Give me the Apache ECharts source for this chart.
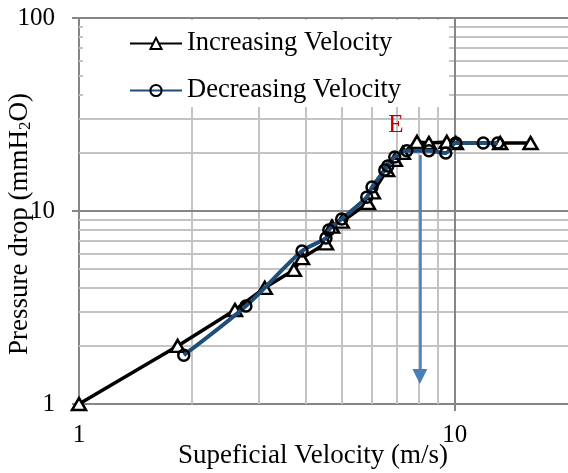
<!DOCTYPE html>
<html><head><meta charset="utf-8">
<script src="https://cdn.jsdelivr.net/npm/echarts@6/dist/echarts.min.js"></script>
<style>html,body{margin:0;padding:0;background:#fff}#c{width:568px;height:473px}</style>
</head><body><div id="c"></div>
<script>
// Data
const incX = [1, 1.83, 2.6, 3.12, 3.73, 3.92, 4.54, 4.71, 5.0, 5.87, 6.05, 6.6, 6.92, 7.27, 7.93, 8.53, 9.52, 10.06, 13.2, 15.9];
const incY = [1, 2.0, 3.07, 4.0, 4.95, 5.7, 6.8, 8.3, 8.8, 11.0, 12.5, 16.3, 18.4, 20.0, 22.8, 22.5, 22.8, 22.5, 22.5, 22.5];
const decX = [1.9, 2.78, 3.92, 4.54, 4.62, 5.0, 5.83, 6.02, 6.51, 6.63, 6.92, 7.45, 8.53, 9.46, 10.06, 11.9, 13.0];
const decY = [1.79, 3.22, 6.2, 7.25, 7.97, 9.09, 11.8, 13.3, 16.3, 17.1, 19.05, 20.5, 20.5, 20.0, 22.5, 22.5, 22.5];
const xTickLabels = ['1', '10'];
const yTickLabels = ['1', '10', '100'];
const xMinorGrid = [2, 3, 4, 5, 6, 7, 8, 9];
const yMinorGrid = [2, 3, 4, 5, 6, 7, 8, 9, 20, 30, 40, 50, 60, 70, 80, 90];
const xMajorGrid = [10];
const yMajorGrid = [10, 100];
const arrowX = 8.07, arrowTop = 19.5, arrowBottom = 1.39;
const markE = {label: 'E', x: 6.97, y: 27.9};
const xTitle = 'Supeficial Velocity (m/s)';
const yTitle = 'Pressure drop (mmH{sub|2}O)';

const FONT = 'Liberation Serif';
const pair = (xs, ys) => xs.map((x, i) => [x, ys[i]]);
const fmt = (labels) => (v) => { const r = Math.round(v); const s = String(r); return labels.includes(s) && Math.abs(v - r) < 1e-6 ? s : ''; };

const minorLines = [].concat(xMinorGrid.map(v => ({xAxis: v})), yMinorGrid.map(v => ({yAxis: v})));
const majorLines = [].concat(xMajorGrid.map(v => ({xAxis: v})), yMajorGrid.map(v => ({yAxis: v})));

const chart = echarts.init(document.getElementById('c'));
chart.setOption({
  animation: false,
  backgroundColor: '#fff',
  textStyle: {fontFamily: FONT},
  grid: {left: 79, right: 0, top: 18, bottom: 69, containLabel: false, outerBoundsMode: 'none'},
  xAxis: {
    type: 'log', logBase: 10, min: 1, max: 20,
    splitLine: {show: false},
    axisLine: {show: true, lineStyle: {color: '#868686', width: 2}},
    axisTick: {show: true, length: 7, lineStyle: {color: '#868686', width: 2}},
    axisLabel: {formatter: fmt(xTickLabels), fontSize: 25, color: '#000', fontFamily: FONT, margin: 19, showMaxLabel: false}
  },
  yAxis: {
    type: 'log', logBase: 10, min: 1, max: 100,
    splitLine: {show: false},
    axisLine: {show: true, lineStyle: {color: '#868686', width: 2}},
    axisTick: {show: true, length: 7, lineStyle: {color: '#868686', width: 2}},
    axisLabel: {formatter: fmt(yTickLabels), fontSize: 25, color: '#000', fontFamily: FONT, margin: 24}
  },
  legend: {
    orient: 'vertical', left: 83, top: 20, z: 10,
    padding: [10, 48, 3, 46], itemGap: 20,
    backgroundColor: '#fff',
    itemWidth: 52, itemHeight: 14,
    textStyle: {fontSize: 26.5, color: '#000', fontFamily: FONT},
    data: ['Increasing Velocity', 'Decreasing Velocity']
  },
  graphic: [
    {type: 'text', x: 313, y: 456, z: 100,
      style: {text: xTitle, fill: '#000', font: '27px "Liberation Serif"', textAlign: 'center', textVerticalAlign: 'middle'}},
    {type: 'text', x: 20, y: 224, rotation: Math.PI / 2, z: 100,
      style: {text: yTitle, fill: '#000', font: '27px "Liberation Serif"', textAlign: 'center', textVerticalAlign: 'middle',
        rich: {sub: {fontSize: 17, fontFamily: FONT, padding: [12, 0, 0, 0], fill: '#000'}}}}
  ],
  series: [
    {
      name: 'grid', type: 'line', data: [], z: 1, silent: true,
      markLine: {silent: true, z: 1, symbol: 'none', animation: false, label: {show: false},
        lineStyle: {color: '#c3c3c3', width: 2, type: 'solid'}, data: minorLines}
    },
    {
      name: 'gridMajor', type: 'line', data: [], z: 1, silent: true,
      markLine: {silent: true, z: 1, symbol: 'none', animation: false, label: {show: false},
        lineStyle: {color: '#868686', width: 2, type: 'solid'}, data: majorLines}
    },
    {
      name: 'Increasing Velocity', type: 'line', data: pair(incX, incY), z: 3,
      symbol: 'triangle', symbolSize: [14, 12],
      lineStyle: {color: '#000', width: 3.5},
      itemStyle: {color: '#fff', borderColor: '#000', borderWidth: 2.5},
      markPoint: {symbol: 'circle', symbolSize: 0, silent: true, z: 12,
        label: {show: true, position: 'inside', formatter: markE.label, color: '#c00000', fontSize: 25, fontFamily: FONT},
        data: [{coord: [markE.x, markE.y]}]}
    },
    {
      name: 'Decreasing Velocity', type: 'line', data: pair(decX, decY), z: 4,
      symbol: 'circle', symbolSize: 11, smooth: 0.3,
      lineStyle: {color: '#1f4e79', width: 4},
      itemStyle: {color: 'rgba(255,255,255,0)', borderColor: '#000', borderWidth: 2.5}
    },
    {
      name: 'arrow', type: 'line', data: [], z: 5, silent: true,
      markLine: {silent: true, z: 5, symbol: ['none', 'triangle'], symbolSize: 15, animation: false,
        label: {show: false}, itemStyle: {color: '#4a7ebb'}, lineStyle: {color: '#4a7ebb', width: 2.5, type: 'solid'},
        data: [[{coord: [arrowX, arrowTop]}, {coord: [arrowX, arrowBottom]}]]}
    }
  ]
});
</script></body></html>
